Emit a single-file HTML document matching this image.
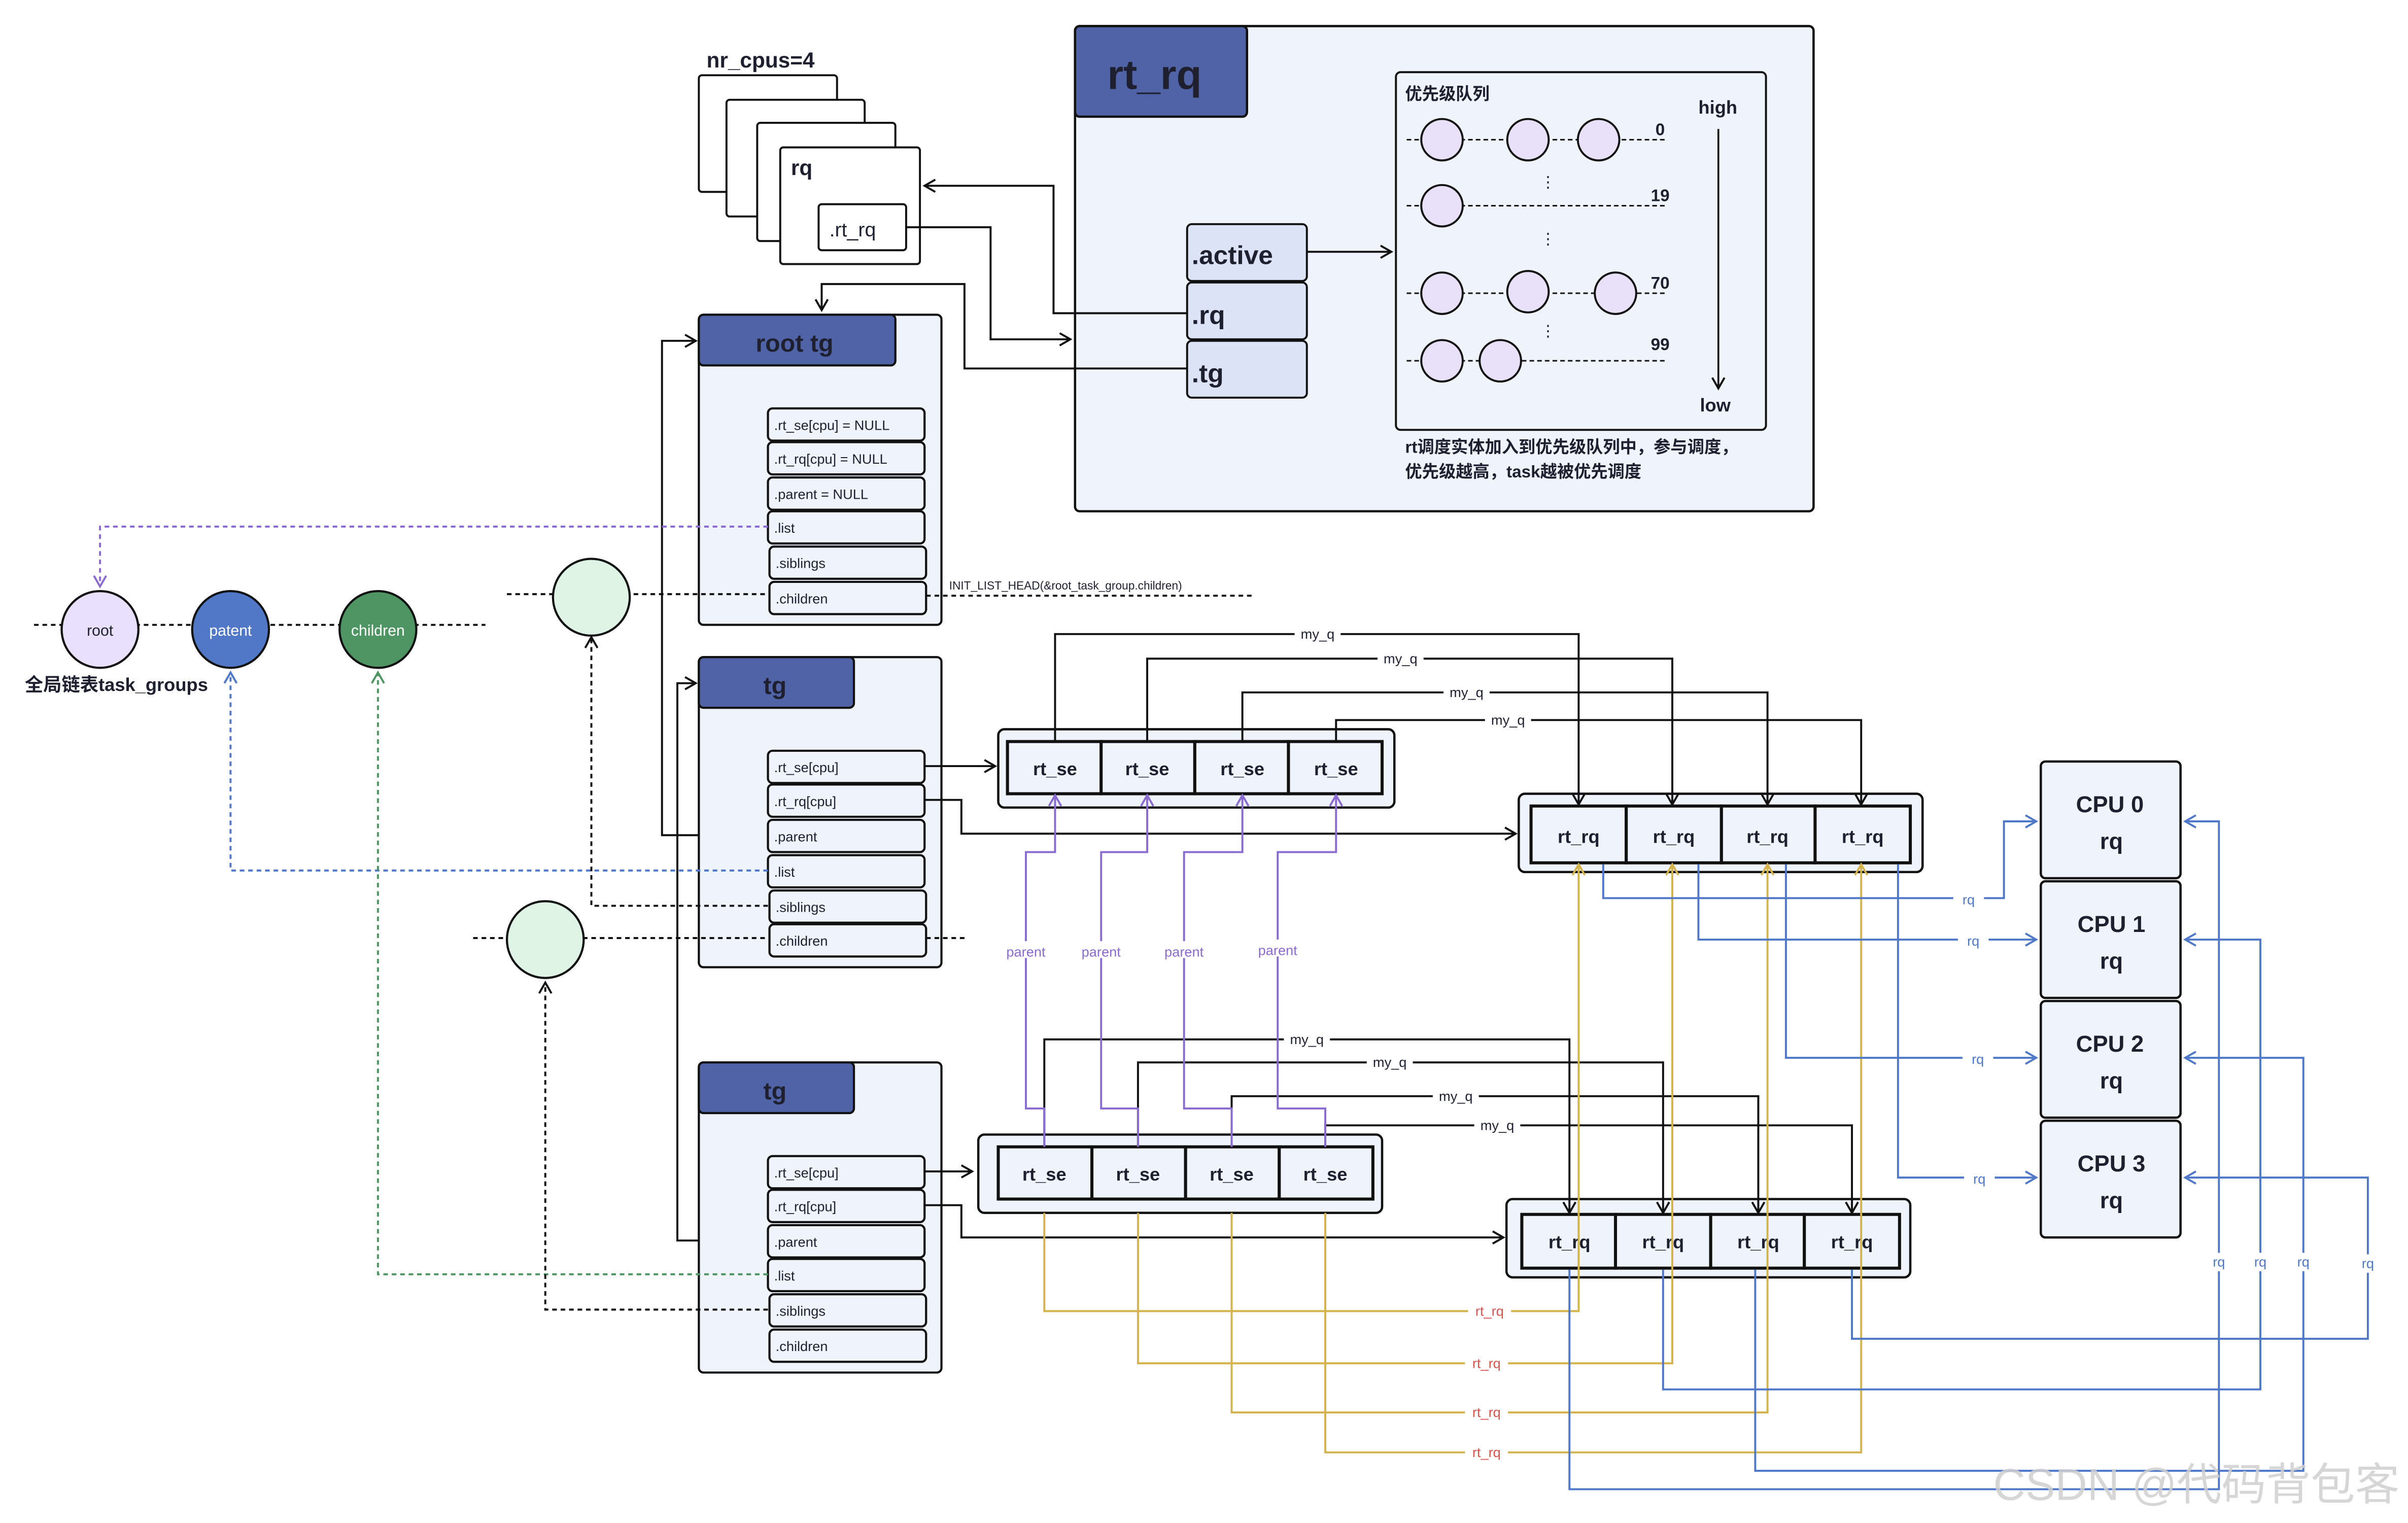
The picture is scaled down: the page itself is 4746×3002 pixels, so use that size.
<!DOCTYPE html>
<html><head><meta charset="utf-8"><style>
html,body{margin:0;padding:0;background:#fff;}
svg{display:block;}
text{font-family:"Liberation Sans","Noto Sans CJK SC",sans-serif;fill:#1e2030;}
</style></head><body>
<svg width="4746" height="3002" viewBox="0 0 1568 992" xmlns="http://www.w3.org/2000/svg">
<defs>
<marker id="ak" markerWidth="10" markerHeight="10" refX="8" refY="5" orient="auto" markerUnits="userSpaceOnUse"><path d="M1,1 L8,5 L1,9" fill="none" stroke="#111" stroke-width="1.3"/></marker>
<marker id="ap" markerWidth="10" markerHeight="10" refX="8" refY="5" orient="auto" markerUnits="userSpaceOnUse"><path d="M1,1 L8,5 L1,9" fill="none" stroke="#8a6bd1" stroke-width="1.3"/></marker>
<marker id="ab" markerWidth="10" markerHeight="10" refX="8" refY="5" orient="auto" markerUnits="userSpaceOnUse"><path d="M1,1 L8,5 L1,9" fill="none" stroke="#4f78c8" stroke-width="1.3"/></marker>
<marker id="ag" markerWidth="10" markerHeight="10" refX="8" refY="5" orient="auto" markerUnits="userSpaceOnUse"><path d="M1,1 L8,5 L1,9" fill="none" stroke="#4f9563" stroke-width="1.3"/></marker>
<marker id="ay" markerWidth="10" markerHeight="10" refX="8" refY="5" orient="auto" markerUnits="userSpaceOnUse"><path d="M1,1 L8,5 L1,9" fill="none" stroke="#d4b24c" stroke-width="1.3"/></marker>
</defs>

<!-- nr_cpus stacked boxes -->
<text x="460" y="44" font-size="14" font-weight="bold">nr_cpus=4</text>
<g fill="#fff" stroke="#111" stroke-width="1.3">
<rect x="455" y="49" width="90" height="76" rx="2"/>
<rect x="473" y="65" width="90" height="76" rx="2"/>
<rect x="493" y="80" width="90" height="77" rx="2"/>
<rect x="508" y="96" width="91" height="76" rx="2"/>
<rect x="533" y="133" width="57" height="30" rx="2"/>
</g>
<text x="515" y="114" font-size="14" font-weight="bold">rq</text>
<text x="540" y="154" font-size="13">.rt_rq</text>

<!-- rt_rq panel -->
<rect x="700" y="17" width="481" height="316" rx="3" fill="#eef3fc" stroke="#111" stroke-width="1.5"/>
<rect x="700" y="17" width="112" height="59" rx="3" fill="#5063a6" stroke="#111" stroke-width="1.5"/>
<text x="721" y="58" font-size="27" font-weight="bold">rt_rq</text>
<g fill="#dde3f6" stroke="#111" stroke-width="1.3">
<rect x="773" y="146" width="78" height="37" rx="3"/>
<rect x="773" y="184" width="78" height="37" rx="3"/>
<rect x="773" y="222" width="78" height="37" rx="3"/>
</g>
<text x="776" y="172" font-size="17" font-weight="bold">.active</text>
<text x="776" y="211" font-size="17" font-weight="bold">.rq</text>
<text x="776" y="249" font-size="17" font-weight="bold">.tg</text>

<!-- priority queue box -->
<rect x="909" y="47" width="241" height="233" rx="3" fill="#eef3fc" stroke="#111" stroke-width="1.3"/>
<text x="915" y="65" font-size="11" font-weight="bold">优先级队列</text>
<g stroke="#111" stroke-width="1" stroke-dasharray="3,2">
<line x1="916" y1="91" x2="1085" y2="91"/>
<line x1="916" y1="134" x2="1085" y2="134"/>
<line x1="916" y1="191" x2="1085" y2="191"/>
<line x1="916" y1="235" x2="1085" y2="235"/>
</g>
<g fill="#e9e0fa" stroke="#111" stroke-width="1.3">
<circle cx="939" cy="91" r="13.5"/><circle cx="995" cy="91" r="13.5"/><circle cx="1041" cy="91" r="13.5"/>
<circle cx="939" cy="134" r="13.5"/>
<circle cx="939" cy="191" r="13.5"/><circle cx="995" cy="190" r="13.5"/><circle cx="1052" cy="191" r="13.5"/>
<circle cx="939" cy="235" r="13.5"/><circle cx="977" cy="235" r="13.5"/>
</g>
<g font-size="11" font-weight="bold"><text x="1078" y="88">0</text><text x="1075" y="131">19</text><text x="1075" y="188">70</text><text x="1075" y="228">99</text></g>
<g font-size="10" fill="#111"><text x="1003" y="122">⋮</text><text x="1003" y="159">⋮</text><text x="1003" y="219">⋮</text></g>
<text x="1106" y="74" font-size="12" font-weight="bold">high</text>
<text x="1107" y="268" font-size="12" font-weight="bold">low</text>
<line x1="1119" y1="84" x2="1119" y2="253" stroke="#111" stroke-width="1.2" marker-end="url(#ak)"/>
<text x="915" y="295" font-size="11" font-weight="bold">rt调度实体加入到优先级队列中，参与调度，</text>
<text x="915" y="311" font-size="11" font-weight="bold">优先级越高，task越被优先调度</text>

<!-- connections top -->
<g fill="none" stroke="#111" stroke-width="1.3">
<path d="M851,164 H906" marker-end="url(#ak)"/>
<path d="M773,204 H686 V121 H602" marker-end="url(#ak)"/>
<path d="M590,148 H645 V221 H697" marker-end="url(#ak)"/>
<path d="M773,240 H628 V185 H535 V202" marker-end="url(#ak)"/>
<path d="M500,544 H431 V222 H453" marker-end="url(#ak)"/>
<path d="M500,808 H441 V445 H453" marker-end="url(#ak)"/>
</g>

<!-- tg panels -->
<g stroke="#111" stroke-width="1.4">
<rect x="455" y="205" width="158" height="202" rx="3" fill="#eef3fc"/>
<rect x="455" y="205" width="128" height="33" rx="3" fill="#5063a6"/>
<rect x="455" y="428" width="158" height="202" rx="3" fill="#eef3fc"/>
<rect x="455" y="428" width="101" height="33" rx="3" fill="#5063a6"/>
<rect x="455" y="692" width="158" height="202" rx="3" fill="#eef3fc"/>
<rect x="455" y="692" width="101" height="33" rx="3" fill="#5063a6"/>
</g>
<text x="492" y="229" font-size="16" font-weight="bold">root tg</text>
<text x="497" y="452" font-size="16" font-weight="bold">tg</text>
<text x="497" y="716" font-size="16" font-weight="bold">tg</text>
<g fill="#eef3fc" stroke="#111" stroke-width="1.4">
<rect x="500" y="266" width="102" height="21" rx="3"/><rect x="500" y="288" width="102" height="21" rx="3"/><rect x="500" y="311" width="102" height="21" rx="3"/><rect x="500" y="333" width="102" height="21" rx="3"/><rect x="501" y="356" width="102" height="21" rx="3"/><rect x="501" y="379" width="102" height="21" rx="3"/>
<rect x="500" y="489" width="102" height="21" rx="3"/><rect x="500" y="511" width="102" height="21" rx="3"/><rect x="500" y="534" width="102" height="21" rx="3"/><rect x="500" y="557" width="102" height="21" rx="3"/><rect x="501" y="580" width="102" height="21" rx="3"/><rect x="501" y="602" width="102" height="21" rx="3"/>
<rect x="500" y="753" width="102" height="21" rx="3"/><rect x="500" y="775" width="102" height="21" rx="3"/><rect x="500" y="798" width="102" height="21" rx="3"/><rect x="500" y="820" width="102" height="21" rx="3"/><rect x="501" y="843" width="102" height="21" rx="3"/><rect x="501" y="866" width="102" height="21" rx="3"/>
</g>
<g font-size="9">
<text x="504" y="280">.rt_se[cpu] = NULL</text><text x="504" y="302">.rt_rq[cpu] = NULL</text><text x="504" y="325">.parent = NULL</text><text x="504" y="347">.list</text><text x="505" y="370">.siblings</text><text x="505" y="393">.children</text>
<text x="504" y="503">.rt_se[cpu]</text><text x="504" y="525">.rt_rq[cpu]</text><text x="504" y="548">.parent</text><text x="504" y="571">.list</text><text x="505" y="594">.siblings</text><text x="505" y="616">.children</text>
<text x="504" y="767">.rt_se[cpu]</text><text x="504" y="789">.rt_rq[cpu]</text><text x="504" y="812">.parent</text><text x="504" y="834">.list</text><text x="505" y="857">.siblings</text><text x="505" y="880">.children</text>
</g>

<!-- global list -->
<g fill="none" stroke-width="1.3" stroke-dasharray="3,2.5">
<line x1="22" y1="407" x2="316" y2="407" stroke="#111"/>
<line x1="330" y1="387" x2="500" y2="387" stroke="#111"/>
<line x1="603" y1="388" x2="817" y2="388" stroke="#111"/>
<line x1="308" y1="611" x2="500" y2="611" stroke="#111"/>
<line x1="603" y1="611" x2="628" y2="611" stroke="#111"/>
<path d="M500,343 H65 V382" stroke="#8a6bd1" marker-end="url(#ap)"/>
<path d="M500,567 H150 V438" stroke="#4f78c8" marker-end="url(#ab)"/>
<path d="M500,830 H246 V438" stroke="#4f9563" marker-end="url(#ag)"/>
<path d="M500,590 H385 V415" stroke="#111" marker-end="url(#ak)"/>
<path d="M500,853 H355 V640" stroke="#111" marker-end="url(#ak)"/>
</g>
<text x="618" y="384" font-size="7.5">INIT_LIST_HEAD(&amp;root_task_group.children)</text>
<g stroke="#111" stroke-width="1.4">
<circle cx="65" cy="410" r="25" fill="#e9e0fd"/>
<circle cx="150" cy="410" r="25" fill="#5078c6"/>
<circle cx="246" cy="410" r="25" fill="#4f9563"/>
<circle cx="385" cy="389" r="25" fill="#dff4e4"/>
<circle cx="355" cy="612" r="25" fill="#dff4e4"/>
</g>
<text x="65" y="414" font-size="10" text-anchor="middle">root</text>
<text x="150" y="414" font-size="10" text-anchor="middle" style="fill:#fff">patent</text>
<text x="246" y="414" font-size="10" text-anchor="middle" style="fill:#fff">children</text>
<text x="16" y="450" font-size="12" font-weight="bold">全局链表task_groups</text>

<!-- arrays -->
<g stroke="#111" stroke-width="1.5">
<rect x="650" y="475" width="258" height="51" rx="4" fill="#eef3fc"/>
<rect x="989" y="517" width="263" height="51" rx="4" fill="#eef3fc"/>
<rect x="637" y="739" width="263" height="51" rx="4" fill="#eef3fc"/>
<rect x="981" y="781" width="263" height="51" rx="4" fill="#eef3fc"/>
</g>
<g stroke="#111" stroke-width="2" fill="#eef3fc">
<rect x="656" y="483" width="61" height="34"/><rect x="717" y="483" width="61" height="34"/><rect x="778" y="483" width="61" height="34"/><rect x="839" y="483" width="61" height="34"/>
<rect x="997" y="525" width="62" height="37"/><rect x="1059" y="525" width="62" height="37"/><rect x="1121" y="525" width="61" height="37"/><rect x="1182" y="525" width="62" height="37"/>
<rect x="650" y="747" width="61" height="34"/><rect x="711" y="747" width="61" height="34"/><rect x="772" y="747" width="61" height="34"/><rect x="833" y="747" width="61" height="34"/>
<rect x="991" y="791" width="61" height="35"/><rect x="1052" y="791" width="62" height="35"/><rect x="1114" y="791" width="61" height="35"/><rect x="1175" y="791" width="62" height="35"/>
</g>
<g font-size="12" font-weight="bold" text-anchor="middle">
<text x="687" y="505">rt_se</text><text x="747" y="505">rt_se</text><text x="809" y="505">rt_se</text><text x="870" y="505">rt_se</text>
<text x="1028" y="549">rt_rq</text><text x="1090" y="549">rt_rq</text><text x="1151" y="549">rt_rq</text><text x="1213" y="549">rt_rq</text>
<text x="680" y="769">rt_se</text><text x="741" y="769">rt_se</text><text x="802" y="769">rt_se</text><text x="863" y="769">rt_se</text>
<text x="1022" y="813">rt_rq</text><text x="1083" y="813">rt_rq</text><text x="1145" y="813">rt_rq</text><text x="1206" y="813">rt_rq</text>
</g>

<!-- black arrows into arrays -->
<g fill="none" stroke="#111" stroke-width="1.3">
<path d="M602,499 H648" marker-end="url(#ak)"/>
<path d="M602,521 H626 V543 H987" marker-end="url(#ak)"/>
<path d="M602,763 H633" marker-end="url(#ak)"/>
<path d="M602,785 H626 V806 H979" marker-end="url(#ak)"/>
<path d="M687,483 V413 H1028 V524" marker-end="url(#ak)"/>
<path d="M747,483 V429 H1089 V524" marker-end="url(#ak)"/>
<path d="M809,483 V451 H1151 V524" marker-end="url(#ak)"/>
<path d="M870,483 V469 H1212 V524" marker-end="url(#ak)"/>
<path d="M680,747 V677 H1022 V790" marker-end="url(#ak)"/>
<path d="M741,747 V692 H1083 V790" marker-end="url(#ak)"/>
<path d="M802,747 V714 H1145 V790" marker-end="url(#ak)"/>
<path d="M863,747 V733 H1206 V790" marker-end="url(#ak)"/>
</g>
<g font-size="9" text-anchor="middle">
<rect x="843" y="407" width="30" height="11" fill="#fff"/><text x="858" y="416">my_q</text>
<rect x="897" y="423" width="30" height="11" fill="#fff"/><text x="912" y="432">my_q</text>
<rect x="940" y="445" width="30" height="11" fill="#fff"/><text x="955" y="454">my_q</text>
<rect x="967" y="463" width="30" height="11" fill="#fff"/><text x="982" y="472">my_q</text>
<rect x="836" y="671" width="30" height="11" fill="#fff"/><text x="851" y="680">my_q</text>
<rect x="890" y="686" width="30" height="11" fill="#fff"/><text x="905" y="695">my_q</text>
<rect x="933" y="708" width="30" height="11" fill="#fff"/><text x="948" y="717">my_q</text>
<rect x="960" y="727" width="30" height="11" fill="#fff"/><text x="975" y="736">my_q</text>
</g>

<!-- purple parent -->
<g fill="none" stroke="#8a6bd1" stroke-width="1.3">
<path d="M680,747 V722 H668 V555 H687 V518" marker-end="url(#ap)"/>
<path d="M741,747 V722 H717 V555 H747 V518" marker-end="url(#ap)"/>
<path d="M802,747 V722 H771 V555 H809 V518" marker-end="url(#ap)"/>
<path d="M863,747 V722 H832 V555 H870 V518" marker-end="url(#ap)"/>
</g>
<g font-size="9" text-anchor="middle" style="fill:#8a6bd1">
<rect x="652" y="613" width="32" height="11" fill="#fff"/><text x="668" y="623" style="fill:#8a6bd1">parent</text>
<rect x="701" y="613" width="32" height="11" fill="#fff"/><text x="717" y="623" style="fill:#8a6bd1">parent</text>
<rect x="755" y="613" width="32" height="11" fill="#fff"/><text x="771" y="623" style="fill:#8a6bd1">parent</text>
<rect x="816" y="612" width="32" height="11" fill="#fff"/><text x="832" y="622" style="fill:#8a6bd1">parent</text>
</g>

<!-- yellow rt_rq -->
<g fill="none" stroke="#d4b24c" stroke-width="1.3">
<path d="M680,790 V854 H1028 V563" marker-end="url(#ay)"/>
<path d="M741,790 V888 H1089 V563" marker-end="url(#ay)"/>
<path d="M802,790 V920 H1151 V563" marker-end="url(#ay)"/>
<path d="M863,790 V946 H1212 V563" marker-end="url(#ay)"/>
</g>
<g font-size="9" text-anchor="middle">
<rect x="956" y="848" width="28" height="11" fill="#fff"/><text x="970" y="857" style="fill:#d9534f">rt_rq</text>
<rect x="954" y="882" width="28" height="11" fill="#fff"/><text x="968" y="891" style="fill:#d9534f">rt_rq</text>
<rect x="954" y="914" width="28" height="11" fill="#fff"/><text x="968" y="923" style="fill:#d9534f">rt_rq</text>
<rect x="954" y="940" width="28" height="11" fill="#fff"/><text x="968" y="949" style="fill:#d9534f">rt_rq</text>
</g>

<!-- blue rq -->
<g fill="none" stroke="#4f78c8" stroke-width="1.3">
<path d="M1044,563 V585 H1305 V535 H1326" marker-end="url(#ab)"/>
<path d="M1106,563 V612 H1326" marker-end="url(#ab)"/>
<path d="M1163,563 V689 H1326" marker-end="url(#ab)"/>
<path d="M1236,563 V767 H1326" marker-end="url(#ab)"/>
<path d="M1022,827 V970 H1445 V535 H1423" marker-end="url(#ab)"/>
<path d="M1083,827 V905 H1472 V612 H1423" marker-end="url(#ab)"/>
<path d="M1143,827 V958 H1500 V689 H1423" marker-end="url(#ab)"/>
<path d="M1206,827 V872 H1542 V767 H1423" marker-end="url(#ab)"/>
</g>
<g font-size="9" text-anchor="middle">
<rect x="1272" y="580" width="20" height="11" fill="#fff"/><text x="1282" y="589" style="fill:#4f78c8">rq</text>
<rect x="1275" y="607" width="20" height="11" fill="#fff"/><text x="1285" y="616" style="fill:#4f78c8">rq</text>
<rect x="1278" y="684" width="20" height="11" fill="#fff"/><text x="1288" y="693" style="fill:#4f78c8">rq</text>
<rect x="1279" y="762" width="20" height="11" fill="#fff"/><text x="1289" y="771" style="fill:#4f78c8">rq</text>
<rect x="1437" y="816" width="16" height="12" fill="#fff"/><text x="1445" y="825" style="fill:#4f78c8">rq</text>
<rect x="1464" y="816" width="16" height="12" fill="#fff"/><text x="1472" y="825" style="fill:#4f78c8">rq</text>
<rect x="1492" y="816" width="16" height="12" fill="#fff"/><text x="1500" y="825" style="fill:#4f78c8">rq</text>
<rect x="1534" y="817" width="16" height="12" fill="#fff"/><text x="1542" y="826" style="fill:#4f78c8">rq</text>
</g>

<!-- CPUs -->
<g fill="#eef3fc" stroke="#111" stroke-width="1.5">
<rect x="1329" y="496" width="91" height="76" rx="3"/>
<rect x="1329" y="574" width="91" height="76" rx="3"/>
<rect x="1329" y="652" width="91" height="76" rx="3"/>
<rect x="1329" y="730" width="91" height="76" rx="3"/>
</g>
<g font-size="15" font-weight="bold" text-anchor="middle">
<text x="1374" y="529">CPU 0</text><text x="1375" y="553">rq</text>
<text x="1375" y="607">CPU 1</text><text x="1375" y="631">rq</text>
<text x="1374" y="685">CPU 2</text><text x="1375" y="709">rq</text>
<text x="1375" y="763">CPU 3</text><text x="1375" y="787">rq</text>
</g>

<text x="1298" y="977" font-size="29" style="fill:#d0d0d0;opacity:0.85">CSDN @代码背包客</text>
</svg>
</body></html>
